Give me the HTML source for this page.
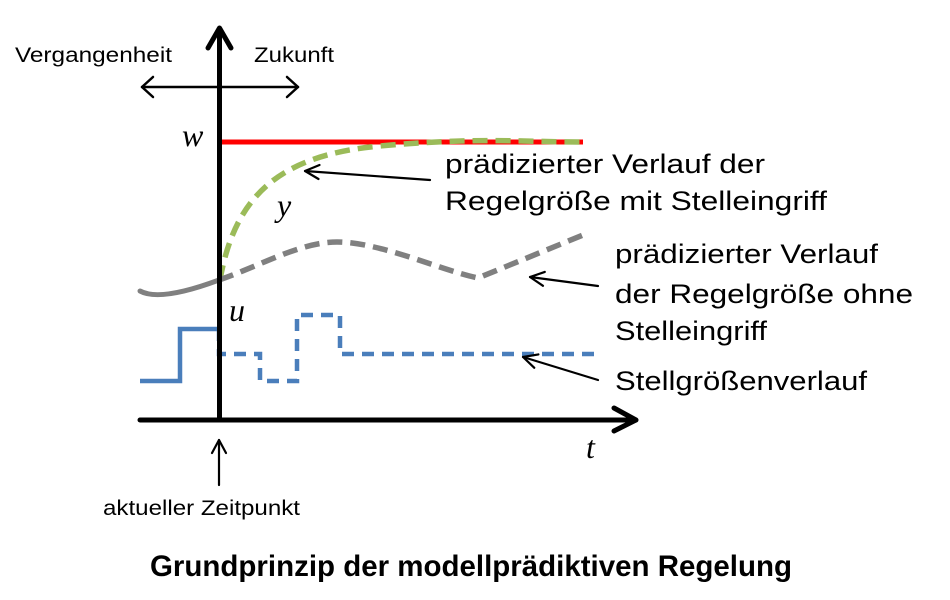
<!DOCTYPE html>
<html>
<head>
<meta charset="utf-8">
<style>
  html, body { margin:0; padding:0; background:#ffffff; }
  body { width:950px; height:600px; overflow:hidden; }
  svg { display:block; }
  .sans { font-family: "Liberation Sans", "DejaVu Sans", sans-serif; fill:#000; }
  .math { font-family: "Liberation Serif", "DejaVu Serif", serif; font-style: italic; fill:#000; }
</style>
</head>
<body>
<svg width="950" height="600" viewBox="0 0 950 600" xmlns="http://www.w3.org/2000/svg">
  <rect width="950" height="600" fill="#ffffff"/>

  <!-- top labels -->
  <text class="sans" x="15" y="62" font-size="21" textLength="157" lengthAdjust="spacingAndGlyphs">Vergangenheit</text>
  <text class="sans" x="254" y="62" font-size="21" textLength="80" lengthAdjust="spacingAndGlyphs">Zukunft</text>

  <!-- double arrow past/future -->
  <g stroke="#000" stroke-width="2.5" fill="none" stroke-linecap="round" stroke-linejoin="round">
    <line x1="142" y1="87" x2="298" y2="87"/>
    <polyline points="153,77 142,87 153,97"/>
    <polyline points="287,77 298,87 287,97"/>
  </g>

  <!-- red setpoint line -->
  <line x1="220" y1="142" x2="583" y2="142" stroke="#ff0000" stroke-width="5"/>

  <!-- green dashed predicted y -->
  <path d="M220,280 C235,195 280,155 380,146 S520,142 583,142" fill="none" stroke="#9bbb59" stroke-width="5.5" stroke-dasharray="15,8"/>

  <!-- gray solid past -->
  <path d="M140,291 Q160,302 219,280" fill="none" stroke="#808080" stroke-width="5" stroke-linecap="round"/>
  <!-- gray dashed prediction without input -->
  <path d="M219,280 C260,266 300,242 337,242 C380,242 440,270 478,278 L583,235" fill="none" stroke="#808080" stroke-width="5.5" stroke-dasharray="15,8"/>

  <!-- blue control signal -->
  <path d="M140,381 H180 V329 H219" fill="none" stroke="#4a7ebb" stroke-width="4.5" stroke-linejoin="miter"/>
  <path d="M219,329 V354 H260 V381 H297 V315 H340 V354 H602" fill="none" stroke="#4a7ebb" stroke-width="4.5" stroke-dasharray="12,8"/>

  <!-- axes -->
  <g stroke="#000" stroke-width="5" fill="none" stroke-linecap="round" stroke-linejoin="round">
    <line x1="219.5" y1="30" x2="219.5" y2="420"/>
    <polyline points="208,48 219.5,28 231,48"/>
    <line x1="140" y1="420" x2="634" y2="420"/>
    <polyline points="614,408 636,420 614,431"/>
  </g>

  <!-- math labels -->
  <text class="math" x="182" y="146" font-size="32">w</text>
  <text class="math" x="277" y="216" font-size="32">y</text>
  <text class="math" x="229" y="321" font-size="32">u</text>
  <text class="math" x="586" y="458" font-size="32">t</text>

  <!-- annotation arrows -->
  <g stroke="#000" stroke-width="2.2" fill="none" stroke-linecap="round" stroke-linejoin="round">
    <line x1="430" y1="180" x2="305" y2="171"/>
    <polyline points="319.5,165 305,171 318.5,179"/>
    <line x1="598" y1="286" x2="530" y2="277"/>
    <polyline points="544.8,271.9 530,277 543,285.8"/>
    <line x1="598" y1="380" x2="523" y2="357"/>
    <polyline points="538.4,354.4 523,357 534.3,367.8"/>
    <line x1="219" y1="485" x2="219" y2="440"/>
    <polyline points="212,453 219,440 226,453"/>
  </g>

  <!-- right labels -->
  <text class="sans" x="445" y="173" font-size="27" textLength="320" lengthAdjust="spacingAndGlyphs">prädizierter  Verlauf  der</text>
  <text class="sans" x="445" y="210" font-size="27" textLength="382" lengthAdjust="spacingAndGlyphs">Regelgröße  mit  Stelleingriff</text>

  <text class="sans" x="615" y="263" font-size="27" textLength="263" lengthAdjust="spacingAndGlyphs">prädizierter  Verlauf</text>
  <text class="sans" x="615" y="303" font-size="27" textLength="298" lengthAdjust="spacingAndGlyphs">der  Regelgröße  ohne</text>
  <text class="sans" x="615" y="340" font-size="27" textLength="152" lengthAdjust="spacingAndGlyphs">Stelleingriff</text>
  <text class="sans" x="615" y="390" font-size="27" textLength="252" lengthAdjust="spacingAndGlyphs">Stellgrößenverlauf</text>

  <!-- bottom labels -->
  <text class="sans" x="103" y="515" font-size="21" textLength="197" lengthAdjust="spacingAndGlyphs">aktueller Zeitpunkt</text>
  <text class="sans" x="150" y="576" font-size="30" font-weight="bold" textLength="642" lengthAdjust="spacingAndGlyphs">Grundprinzip der modellprädiktiven Regelung</text>
</svg>
</body>
</html>
